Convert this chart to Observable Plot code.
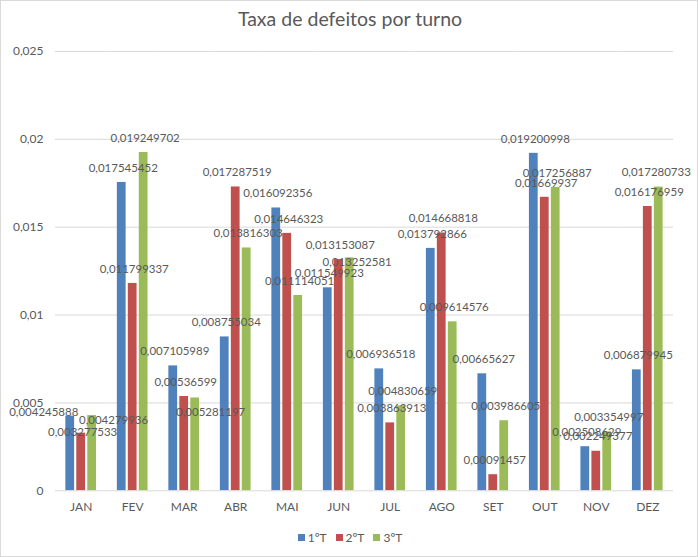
<!DOCTYPE html>
<html>
<head>
<meta charset="utf-8">
<script src="https://cdn.jsdelivr.net/npm/d3@7"></script>
<script src="https://cdn.jsdelivr.net/npm/@observablehq/plot@0.6"></script>
<style>
  html, body { margin: 0; padding: 0; background: #fff; }
  #chart { position: relative; width: 696px; height: 555px; border: 1px solid #d9d9d9; font-family: Lato, "Open Sans", sans-serif; overflow: hidden; }
  #title { position: absolute; top: 6px; left: 0; width: 698px; text-align: center; font-size: 19.5px; color: #595959; }
  #plot { position: absolute; top: 0; left: -1px; }
  #legend { position: absolute; top: 529px; left: 0; width: 698px; display: flex; justify-content: center; gap: 9px; font-size: 12px; color: #595959; }
  #legend span.item { display: flex; align-items: center; gap: 3px; }
  #legend span.sw { display: inline-block; width: 7px; height: 7px; }
</style>
</head>
<body>
<div id="chart">
  <div id="title">Taxa de defeitos por turno</div>
  <div id="plot"></div>
  <div id="legend"></div>
</div>
<script>
const months = ["JAN","FEV","MAR","ABR","MAI","JUN","JUL","AGO","SET","OUT","NOV","DEZ"];
const seriesNames = ["1ºT","2ºT","3ºT"];
const seriesColors = ["#4f81bd","#c0504d","#9bbb59"];
const turno1 = [0.004245888,0.017545452,0.007105989,0.008755034,0.016092356,0.011549923,0.006936518,0.013792866,0.00665627,0.019200998,0.002508629,0.006879945];
const turno2 = [0.003277533,0.011799337,0.00536599,0.017287519,0.014646323,0.013153087,0.003863913,0.014668818,0.00091457,0.01669937,0.002249377,0.016176959];
const turno3 = [0.004279936,0.019249702,0.005281197,0.013816303,0.011114051,0.013252581,0.004830659,0.009614576,0.003986605,0.017256887,0.003354997,0.017280733];
const yTicks = [0, 0.005, 0.01, 0.015, 0.02, 0.025];

// data-label nudges (pixels) where the reference moved a label off its default spot
const labelNudgeX = [
  [-28,0,0,0,0,0,0,0,0,0,0,0],
  [0,0,0,0,0,0,0,0,0,0,0,0],
  [20,0,14,0,0,6,0,0,0,0,0,-4]
];
const labelNudgeY = [
  [11,0,0,0,0,0,0,0,0,0,0,0],
  [14,0,0,0,0,0,0,0,0,0,0,0],
  [19,0,29,0,0,19,0,0,0,0,0,0]
];

const seriesValues = [turno1, turno2, turno3];
const data = [];
months.forEach((m, i) => {
  seriesNames.forEach((s, j) => {
    data.push({month: m, turno: s, value: seriesValues[j][i], nx: labelNudgeX[j][i], ny: labelNudgeY[j][i]});
  });
});
const fmt = v => String(v).replace(".", ",");

// one text mark per distinct nudge
const groups = d3.groups(data, d => d.nx + "|" + d.ny);
const labelMarks = groups.map(([key, rows]) => Plot.text(rows, {
  fx: "month", x: "turno", y: "value", text: d => fmt(d.value),
  lineAnchor: "middle", dx: 1.5 + rows[0].nx, dy: -14.5 + rows[0].ny,
  fill: "#595959", fontSize: 11.5
}));

const chart = Plot.plot({
  width: 698,
  height: 525,
  marginTop: 50,
  marginBottom: 35,
  marginLeft: 55,
  marginRight: 24,
  style: {fontFamily: "Lato, 'Open Sans', sans-serif", fontSize: "12px", color: "#595959", background: "transparent"},
  fx: {domain: months, padding: 0, round: false, label: null},
  x: {domain: seriesNames, paddingInner: 0.2, paddingOuter: 0.95, round: false, axis: null},
  y: {domain: [0, 0.025], label: null},
  color: {domain: seriesNames, range: seriesColors},
  marks: [
    Plot.ruleY(yTicks.slice(1), {stroke: "#d9d9d9", strokeWidth: 1}),
    Plot.axisY(yTicks, {tickSize: 0, tickPadding: 12, tickFormat: fmt, label: null, fontSize: 12, fill: "#595959"}),
    Plot.axisFx({anchor: "bottom", tickSize: 0, tickPadding: 12, label: null, fontSize: 12, fill: "#595959"}),
    Plot.barY(data, {fx: "month", x: "turno", y: "value", fill: "turno"}),
    Plot.ruleY([0], {stroke: "#d9d9d9", strokeWidth: 1}),
    ...labelMarks
  ]
});
document.getElementById("plot").appendChild(chart);

const legend = document.getElementById("legend");
seriesNames.forEach((s, i) => {
  const item = document.createElement("span");
  item.className = "item";
  const sw = document.createElement("span");
  sw.className = "sw";
  sw.style.background = seriesColors[i];
  item.appendChild(sw);
  item.appendChild(document.createTextNode(s));
  legend.appendChild(item);
});
</script>
</body>
</html>
